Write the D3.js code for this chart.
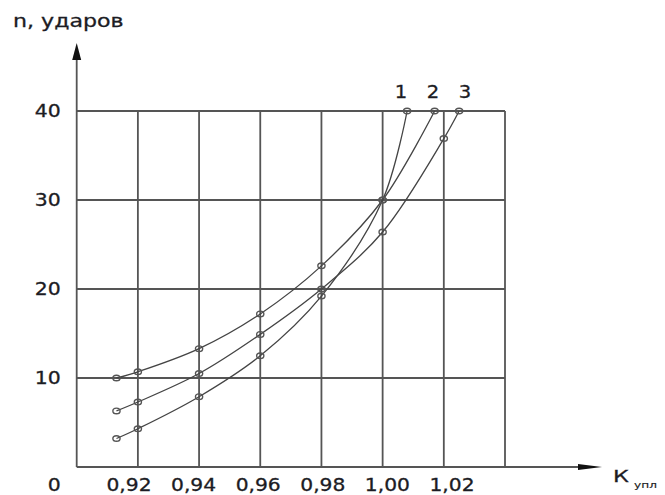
<!DOCTYPE html>
<html>
<head>
<meta charset="utf-8">
<script src="https://cdn.jsdelivr.net/npm/d3@7"></script>
<style>
  body { margin: 0; background: #fff; }
  text { font-family: "DejaVu Sans", Verdana, sans-serif; fill: #1c1c24; stroke: #1c1c24; stroke-width: 0.3px; }
</style>
</head>
<body>
<div id="chart"></div>
<script>
// compaction coefficient vs. number of blows
var curveNames = ["1", "2", "3"];
var curve1 = [[0.913, 3.2], [0.92, 4.3], [0.94, 7.9], [0.96, 12.5], [0.98, 19.2], [1.00, 30], [1.008, 40]];
var curve2 = [[0.913, 10.0], [0.92, 10.7], [0.94, 13.3], [0.96, 17.2], [0.98, 22.6], [1.00, 30], [1.017, 40]];
var curve3 = [[0.913, 6.3], [0.92, 7.3], [0.94, 10.5], [0.96, 14.9], [0.98, 20.0], [1.00, 26.4], [1.02, 36.9], [1.025, 40]];
var xTicks = [0.92, 0.94, 0.96, 0.98, 1.00, 1.02];
var yTicks = [10, 20, 30, 40];
var yTitle = "n, ударов";
var xTitle = "К";
var xTitleSub = "упл";

(function () {
    var width = 665, height = 495;

    var svg = d3.select("#chart").append("svg")
        .attr("width", width)
        .attr("height", height);

    var x = d3.scaleLinear().domain([0.90, 1.04]).range([76.7, 505]),
        y = d3.scaleLinear().domain([0, 40]).range([467, 111]),
        xLab = d3.scaleLinear().domain([0.92, 1.02]).range([129, 452]),
        nameX = d3.scalePoint().domain(curveNames).range([401, 465]);

    var fmt = function (d) { return d3.format(".2f")(d).replace(".", ","); };

    // stretch text horizontally, the source picture is a bit wide
    function stretch(sel, k) {
        sel.each(function () {
            var len = this.getComputedTextLength();
            d3.select(this)
                .attr("textLength", len * k)
                .attr("lengthAdjust", "spacingAndGlyphs");
        });
    }

    var gridColor = "#555";

    // grid
    svg.append("g").selectAll("line")
        .data(xTicks.concat([1.04]))
        .enter().append("line")
        .attr("x1", d => x(d)).attr("x2", d => x(d))
        .attr("y1", y(0)).attr("y2", y(40))
        .attr("stroke", gridColor)
        .attr("stroke-width", 1.8);

    svg.append("g").selectAll("line")
        .data(yTicks)
        .enter().append("line")
        .attr("x1", x(0.90)).attr("x2", x(1.04))
        .attr("y1", d => y(d)).attr("y2", d => y(d))
        .attr("stroke", gridColor)
        .attr("stroke-width", 1.8);

    // axes with arrows
    var yTop = y(40) - 68, xEnd = x(1.04) + 97;
    svg.append("line")
        .attr("x1", x(0.90)).attr("x2", x(0.90))
        .attr("y1", y(0)).attr("y2", yTop + 10)
        .attr("stroke", gridColor).attr("stroke-width", 1.8);
    svg.append("path")
        .attr("d", "M" + x(0.90) + "," + yTop + " L" + (x(0.90) - 4.5) + "," + (yTop + 17) +
            " L" + (x(0.90) + 4.5) + "," + (yTop + 17) + "Z")
        .attr("fill", "#111");
    svg.append("line")
        .attr("x1", x(0.90)).attr("x2", xEnd - 10)
        .attr("y1", y(0)).attr("y2", y(0))
        .attr("stroke", gridColor).attr("stroke-width", 1.8);
    svg.append("path")
        .attr("d", "M" + xEnd + "," + y(0) + " L" + (xEnd - 24) + "," + (y(0) - 3) +
            " L" + (xEnd - 24) + "," + (y(0) + 3) + "Z")
        .attr("fill", "#111");

    // curves
    var line = d3.line()
        .curve(d3.curveCatmullRom)
        .x(d => x(d[0]))
        .y(d => y(d[1]));

    var curves = [curve1, curve2, curve3];
    var g = svg.append("g");
    g.selectAll("path")
        .data(curves)
        .enter().append("path")
        .attr("d", line)
        .attr("fill", "none")
        .attr("stroke", "#444")
        .attr("stroke-width", 1.3);

    g.selectAll("g.pts")
        .data(curves)
        .enter().append("g")
        .attr("class", "pts")
        .selectAll("ellipse")
        .data(d => d)
        .enter().append("ellipse")
        .attr("cx", d => x(d[0]))
        .attr("cy", d => y(d[1]))
        .attr("rx", 3.6)
        .attr("ry", 2.8)
        .attr("fill", "none")
        .attr("stroke", "#555")
        .attr("stroke-width", 1.4);

    // labels
    svg.append("g").selectAll("text")
        .data(xTicks)
        .enter().append("text")
        .attr("x", d => xLab(d))
        .attr("y", 491)
        .attr("text-anchor", "middle")
        .style("font-size", "17px")
        .text(fmt)
        .call(stretch, 1.19);

    svg.append("g").selectAll("text")
        .data(yTicks)
        .enter().append("text")
        .attr("x", x(0.90) - 16)
        .attr("y", d => y(d))
        .attr("dy", "0.38em")
        .attr("text-anchor", "end")
        .style("font-size", "17px")
        .text(d => d)
        .call(stretch, 1.2);

    svg.append("text")
        .attr("x", x(0.90) - 16)
        .attr("y", 491)
        .attr("text-anchor", "end")
        .style("font-size", "17px")
        .text("0")
        .call(stretch, 1.2);

    svg.append("g").selectAll("text")
        .data(curveNames)
        .enter().append("text")
        .attr("x", d => nameX(d))
        .attr("y", y(40) - 13)
        .attr("text-anchor", "middle")
        .style("font-size", "17px")
        .text(d => d)
        .call(stretch, 1.15);

    svg.append("text")
        .attr("x", 13)
        .attr("y", 27)
        .style("font-size", "17px")
        .text(yTitle)
        .call(stretch, 1.3);

    svg.append("text")
        .attr("x", 613)
        .attr("y", 481.5)
        .style("font-size", "16px")
        .text(xTitle)
        .call(stretch, 1.4);

    svg.append("text")
        .attr("x", 634)
        .attr("y", 488)
        .style("font-size", "9px")
        .style("stroke-width", "0.15px")
        .text(xTitleSub)
        .call(stretch, 1.35);
})();
</script>
</body>
</html>
